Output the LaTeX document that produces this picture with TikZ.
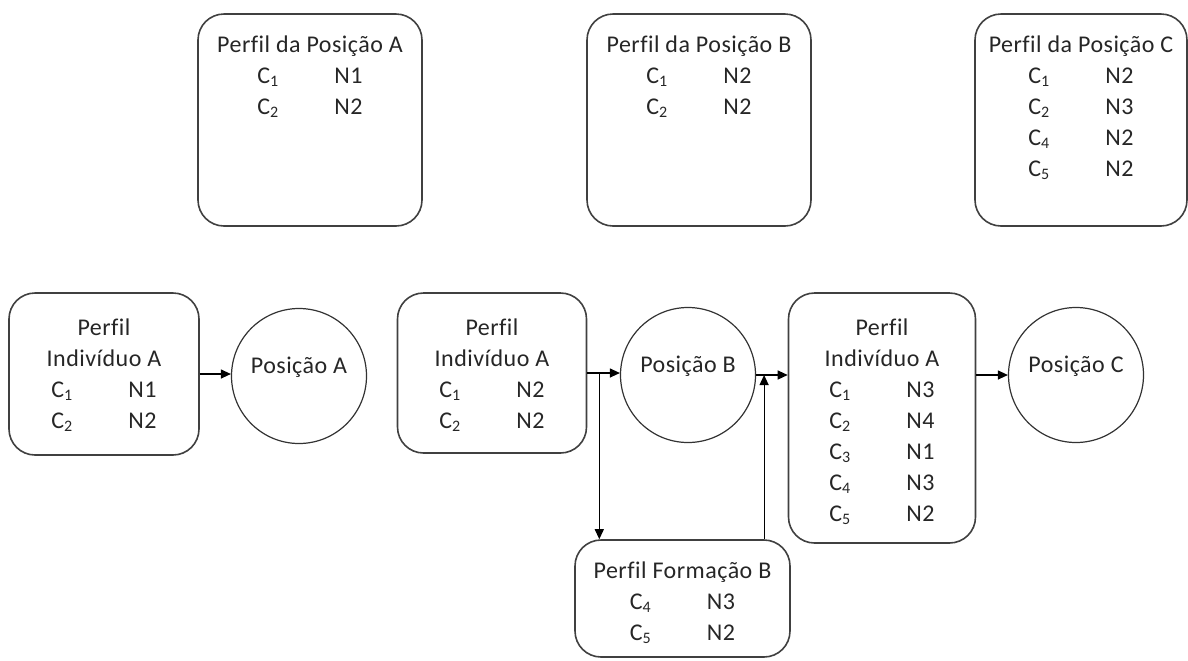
\documentclass[tikz,border=0pt]{standalone}
\usepackage{fontspec}
\setmainfont{Carlito}[Ligatures=NoCommon, LetterSpace=2]
\usetikzlibrary{arrows.meta, positioning, calc}

% colunas competencia / nivel
\newcommand{\niveis}[1]{\begin{tabular}[t]{@{}p{38.5pt}@{}l@{}}#1\end{tabular}}

\begin{document}
\begin{tikzpicture}[x=0.5pt, y=-0.5pt,
    perfil/.style={draw=black!75, line width=0.8pt, rounded corners=13pt, inner sep=0pt},
    perfiltexto/.style={align=center, inner sep=0pt, text=black!85,
                        font=\fontsize{12}{15.5}\selectfont},
    posicao/.style={circle, draw=black!80, line width=0.6pt, minimum size=67.5pt,
                    inner sep=0pt, text height=8pt, text depth=11pt, text=black!85,
                    font=\fontsize{12}{15.5}\selectfont},
    seta/.style={-{Triangle[length=5pt,width=4.5pt]}, line width=0.6pt}]
    \useasboundingbox (0,0) rectangle (1188,660);

    % --- Perfis das posicoes (linha de cima) ---
    \node[perfil, minimum width=112pt, minimum height=106pt] (posA) at (310,120) {};
    \node[perfil, minimum width=112pt, minimum height=106pt] (posB) at (699,120) {};
    \node[perfil, minimum width=106pt, minimum height=106pt] (posC) at (1081,120) {};

    \node[perfiltexto, below=11pt of posA.north] (posAtexto) {Perfil da Posição A\\
      \niveis{C\textsubscript{1} & N1\\ C\textsubscript{2} & N2}};
    \node[perfiltexto, below=11pt of posB.north] (posBtexto) {Perfil da Posição B\\
      \niveis{C\textsubscript{1} & N2\\ C\textsubscript{2} & N2}};
    \node[perfiltexto, below=11pt of posC.north] (posCtexto) {Perfil da Posição C\\
      \niveis{C\textsubscript{1} & N2\\ C\textsubscript{2} & N3\\
              C\textsubscript{4} & N2\\ C\textsubscript{5} & N2}};

    % --- Percurso do individuo (linha de baixo) ---
    \node[perfil, minimum width=95pt, minimum height=81pt] (ind1) at (104,374) {};
    \node[perfil, minimum width=94.5pt, minimum height=80pt] (ind2) at (492,373) {};
    \node[perfil, minimum width=93.5pt, minimum height=125pt] (ind3) at (882,418) {};
    \node[perfil, minimum width=107.5pt, minimum height=58.5pt] (form) at (682.5,598.5) {};

    \node[perfiltexto, below=13pt of ind1.north] (ind1texto) {Perfil\\ Indivíduo A\\
      \niveis{C\textsubscript{1} & N1\\ C\textsubscript{2} & N2}};
    \node[perfiltexto, below=13pt of ind2.north] (ind2texto) {Perfil\\ Indivíduo A\\
      \niveis{C\textsubscript{1} & N2\\ C\textsubscript{2} & N2}};
    \node[perfiltexto, below=13pt of ind3.north] (ind3texto) {Perfil\\ Indivíduo A\\
      \niveis{C\textsubscript{1} & N3\\ C\textsubscript{2} & N4\\ C\textsubscript{3} & N1\\
              C\textsubscript{4} & N3\\ C\textsubscript{5} & N2}};
    \node[perfiltexto, below=11pt of form.north] (formtexto) {Perfil Formação B\\
      \niveis{C\textsubscript{4} & N3\\ C\textsubscript{5} & N2}};

    \node[posicao] (circA) at (299,376) {Posição A};
    \node[posicao] (circB) at (688,375) {Posição B};
    \node[posicao] (circC) at (1076,375) {Posição C};

    % --- Setas ---
    \draw[seta] (ind1.east) -- (ind1.east -| circA.west);
    \draw[seta] (ind2.east) -- (ind2.east -| circB.west);
    \draw[seta] (circB.east) -- (circB.east -| ind3.west);
    \draw[seta] (circC.west -| ind3.east) -- (circC.west);

    % desvio para a formacao e retorno
    \coordinate (desvio) at ($(ind2.east)+(12,0)$);
    \coordinate (retorno) at ($(circB.east)+(8,0)$);
    \draw[seta] (desvio) -- (desvio |- form.north);
    \draw[seta] (retorno |- form.north) -- (retorno);
\end{tikzpicture}
\end{document}
